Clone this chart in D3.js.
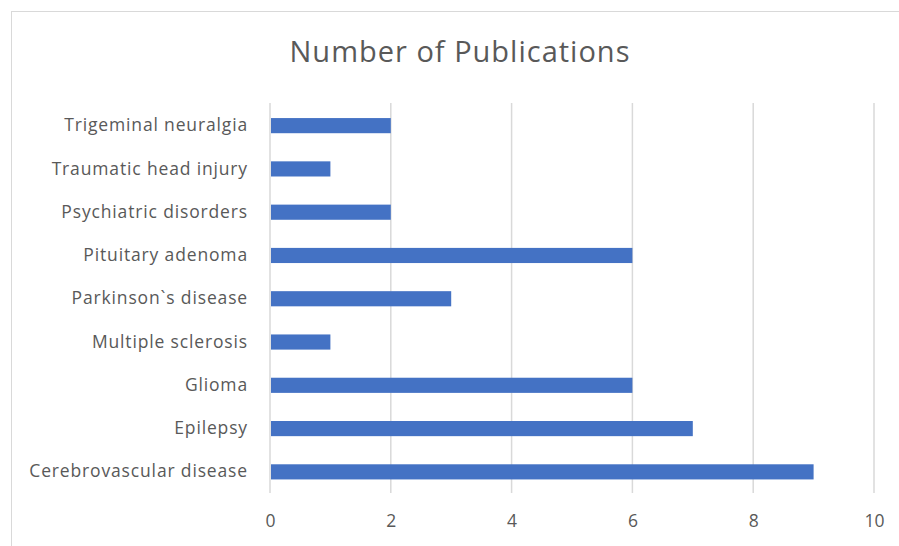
<!DOCTYPE html>
<html><head><meta charset="utf-8">
<script src="https://cdn.jsdelivr.net/npm/d3@7"></script>
<style>body{margin:0;background:#fff}svg{display:block}</style>
</head><body>
<script>
const categories = ["Trigeminal neuralgia","Traumatic head injury","Psychiatric disorders","Pituitary adenoma","Parkinson`s disease","Multiple sclerosis","Glioma","Epilepsy","Cerebrovascular disease"];
const values = [2,1,2,6,3,1,6,7,9];
const xTicks = [0,2,4,6,8,10];
const title = "Number of Publications";

const W=899,H=546;
const svg=d3.select("body").append("svg").attr("width",W).attr("height",H);
svg.append("rect").attr("x",11.5).attr("y",11.5).attr("width",W).attr("height",H).attr("fill","#fff").attr("stroke","#d9d9d9");
const font="'Open Sans', sans-serif";
const x=d3.scaleLinear().domain([0,10]).range([270,874]);
const y=d3.scaleBand().domain(categories).range([104,493.5]).paddingInner(0.65).paddingOuter(0.325);

svg.append("g").selectAll("line").data(xTicks).join("line")
 .attr("x1",d=>x(d)).attr("x2",d=>x(d)).attr("y1",103).attr("y2",493)
 .attr("stroke","#d9d9d9").attr("stroke-width",1.5);

svg.append("g").selectAll("rect").data(values).join("rect")
 .attr("x",x(0)+1).attr("y",(d,i)=>y(categories[i]))
 .attr("width",d=>x(d)-x(0)-1).attr("height",y.bandwidth()).attr("fill","#4472C4");

const ya=svg.append("g").attr("transform",`translate(${x(0)},0)`).call(d3.axisLeft(y).tickSize(0).tickPadding(22));
ya.select(".domain").remove();
ya.selectAll("text").attr("font-family",font).attr("font-size",17.5).attr("fill","#595959").attr("letter-spacing",0.85);

const xa=svg.append("g").attr("transform",`translate(0,493)`).call(d3.axisBottom(x).tickValues(xTicks).tickSize(0).tickPadding(22));
xa.select(".domain").remove();
xa.selectAll("text").attr("font-family",font).attr("font-size",17.5).attr("fill","#595959");

svg.append("text").attr("x",460).attr("y",62).attr("text-anchor","middle")
 .attr("font-family",font).attr("font-size",29).attr("fill","#595959").attr("letter-spacing",1).text(title);
</script>
</body></html>
